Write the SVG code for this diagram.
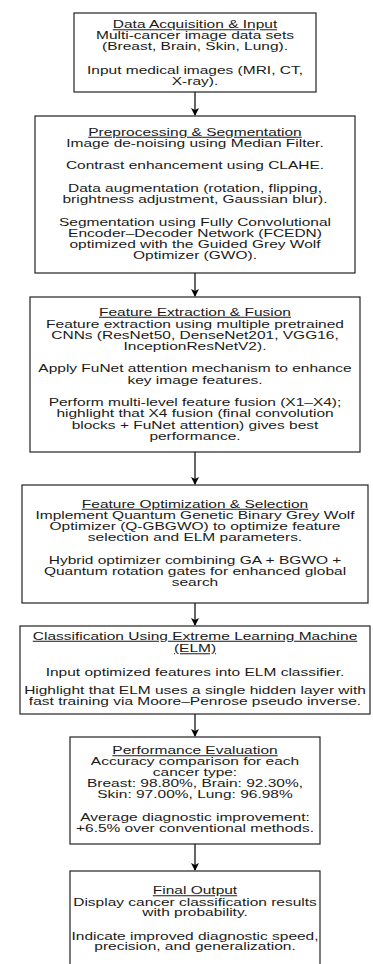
<svg xmlns="http://www.w3.org/2000/svg" width="373" height="964" viewBox="0 0 373 964">
<defs>
<marker id="ah" markerWidth="8" markerHeight="8" refX="7" refY="4" orient="auto" markerUnits="userSpaceOnUse">
<path d="M0,0 L8,4 L0,8 L2,4 Z" fill="#000"/>
</marker>
<style>
.box{fill:#fff;stroke:#222;stroke-width:1.2}
.t{font-family:"Liberation Sans",Arial,sans-serif;font-size:10px;fill:#1a1a1a;text-anchor:middle}
.h{text-decoration:underline}
.c{stroke:#000;stroke-width:1.2;fill:none}
</style>
</defs>
<rect width="373" height="964" fill="#fff"/>
<g id="connectors">
<line class="c" x1="195" y1="92" x2="195" y2="115" marker-end="url(#ah)"/>
<line class="c" x1="195" y1="273" x2="195" y2="296" marker-end="url(#ah)"/>
<line class="c" x1="195" y1="452" x2="195" y2="484" marker-end="url(#ah)"/>
<line class="c" x1="195" y1="603" x2="195" y2="625" marker-end="url(#ah)"/>
<line class="c" x1="195" y1="714" x2="195" y2="736" marker-end="url(#ah)"/>
<line class="c" x1="195" y1="844" x2="195" y2="870" marker-end="url(#ah)"/>
</g>
<g id="n1">
<rect class="box" x="74" y="13" width="242" height="79"/>
<g transform="translate(195,0) scale(1.55,1)">
<text class="t h" x="0" y="28.5">Data Acquisition &amp; Input</text>
<text class="t" x="0" y="39.5">Multi-cancer image data sets</text>
<text class="t" x="0" y="50.5">(Breast, Brain, Skin, Lung).</text>
<text class="t" x="0" y="74">Input medical images (MRI, CT,</text>
<text class="t" x="0" y="85">X-ray).</text>
</g>
</g>
<g id="n2">
<rect class="box" x="35" y="116" width="320" height="157"/>
<g transform="translate(195,0) scale(1.55,1)">
<text class="t h" x="0" y="136">Preprocessing &amp; Segmentation</text>
<text class="t" x="0" y="147">Image de-noising using Median Filter.</text>
<text class="t" x="0" y="169.5">Contrast enhancement using CLAHE.</text>
<text class="t" x="0" y="192.5">Data augmentation (rotation, flipping,</text>
<text class="t" x="0" y="203.5">brightness adjustment, Gaussian blur).</text>
<text class="t" x="0" y="226">Segmentation using Fully Convolutional</text>
<text class="t" x="0" y="237">Encoder–Decoder Network (FCEDN)</text>
<text class="t" x="0" y="248">optimized with the Guided Grey Wolf</text>
<text class="t" x="0" y="259">Optimizer (GWO).</text>
</g>
</g>
<g id="n3">
<rect class="box" x="30" y="297" width="330" height="155"/>
<g transform="translate(195,0) scale(1.55,1)">
<text class="t h" x="0" y="316">Feature Extraction &amp; Fusion</text>
<text class="t" x="0" y="328">Feature extraction using multiple pretrained</text>
<text class="t" x="0" y="339">CNNs (ResNet50, DenseNet201, VGG16,</text>
<text class="t" x="0" y="350.5">InceptionResNetV2).</text>
<text class="t" x="0" y="372.5">Apply FuNet attention mechanism to enhance</text>
<text class="t" x="0" y="384.5">key image features.</text>
<text class="t" x="0" y="406.5">Perform multi-level feature fusion (X1–X4);</text>
<text class="t" x="0" y="417.5">highlight that X4 fusion (final convolution</text>
<text class="t" x="0" y="429">blocks + FuNet attention) gives best</text>
<text class="t" x="0" y="440.5">performance.</text>
</g>
</g>
<g id="n4">
<rect class="box" x="22" y="485" width="346" height="118"/>
<g transform="translate(195,0) scale(1.55,1)">
<text class="t h" x="0" y="508">Feature Optimization &amp; Selection</text>
<text class="t" x="0" y="519.5">Implement Quantum Genetic Binary Grey Wolf</text>
<text class="t" x="0" y="530.5">Optimizer (Q-GBGWO) to optimize feature</text>
<text class="t" x="0" y="541.5">selection and ELM parameters.</text>
<text class="t" x="0" y="564.5">Hybrid optimizer combining GA + BGWO +</text>
<text class="t" x="0" y="575.5">Quantum rotation gates for enhanced global</text>
<text class="t" x="0" y="586.5">search</text>
</g>
</g>
<g id="n5">
<rect class="box" x="20" y="626" width="350" height="88"/>
<g transform="translate(195,0) scale(1.55,1)">
<text class="t h" x="0" y="640">Classification Using Extreme Learning Machine</text>
<text class="t h" x="0" y="652.5">(ELM)</text>
<text class="t" x="0" y="676">Input optimized features into ELM classifier.</text>
<text class="t" x="0" y="694">Highlight that ELM uses a single hidden layer with</text>
<text class="t" x="0" y="705">fast training via Moore–Penrose pseudo inverse.</text>
</g>
</g>
<g id="n6">
<rect class="box" x="70" y="737" width="250" height="107"/>
<g transform="translate(195,0) scale(1.55,1)">
<text class="t h" x="0" y="754.5">Performance Evaluation</text>
<text class="t" x="0" y="765">Accuracy comparison for each</text>
<text class="t" x="0" y="776.5">cancer type:</text>
<text class="t" x="0" y="787.5">Breast: 98.80%, Brain: 92.30%,</text>
<text class="t" x="0" y="798.5">Skin: 97.00%, Lung: 96.98%</text>
<text class="t" x="0" y="821">Average diagnostic improvement:</text>
<text class="t" x="0" y="832">+6.5% over conventional methods.</text>
</g>
</g>
<g id="n7">
<rect class="box" x="70" y="871" width="250" height="100"/>
<g transform="translate(195,0) scale(1.55,1)">
<text class="t h" x="0" y="894.5">Final Output</text>
<text class="t" x="0" y="906">Display cancer classification results</text>
<text class="t" x="0" y="916.5">with probability.</text>
<text class="t" x="0" y="940">Indicate improved diagnostic speed,</text>
<text class="t" x="0" y="950.5">precision, and generalization.</text>
</g>
</g>
</svg>
